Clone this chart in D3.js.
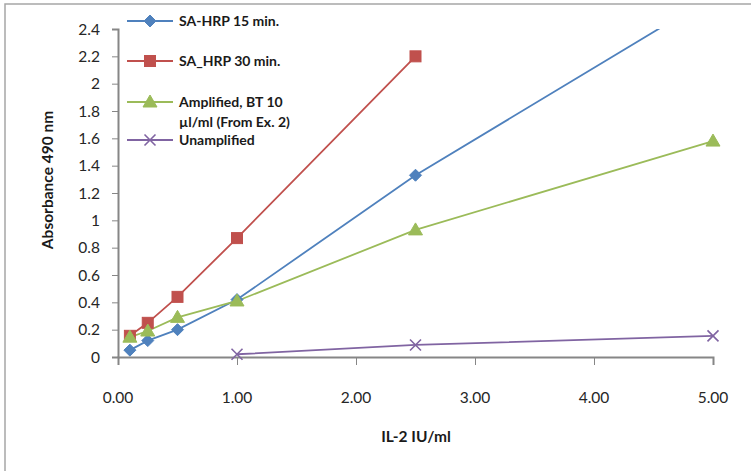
<!DOCTYPE html>
<html><head><meta charset="utf-8">
<script src="https://cdn.jsdelivr.net/npm/d3@7"></script>
<style>body{margin:0;background:#fff;}svg{display:block;font-family:Lato,"Open Sans",sans-serif;}</style>
</head><body><svg id="c" width="751" height="471"></svg>
<script>
const seriesNames = ["SA-HRP 15 min.", "SA_HRP 30 min.", "Amplified, BT 10|µl/ml (From Ex. 2)", "Unamplified"];
const xBlue = [0.1, 0.25, 0.5, 1.0, 2.5, 5.0];
const yBlue = [0.05, 0.12, 0.20, 0.42, 1.33, 2.64];
const xRed = [0.1, 0.25, 0.5, 1.0, 2.5];
const yRed = [0.155, 0.25, 0.44, 0.87, 2.2];
const xGreen = [0.1, 0.25, 0.5, 1.0, 2.5, 5.0];
const yGreen = [0.145, 0.19, 0.29, 0.41, 0.93, 1.58];
const xPurple = [1.0, 2.5, 5.0];
const yPurple = [0.02, 0.088, 0.155];
const xTicks = [0, 1, 2, 3, 4, 5];
const yTicks = [0, 0.2, 0.4, 0.6, 0.8, 1, 1.2, 1.4, 1.6, 1.8, 2, 2.2, 2.4];
const colors = ["#4F81BD", "#C0504D", "#9BBB59", "#8064A2"];
const markers = ["diamond", "square", "triangle", "x"];

const svg = d3.select("#c");
// outer frame
svg.append("rect").attr("x",5).attr("y",4).attr("width",760).attr("height",480)
  .attr("fill","none").attr("stroke","#a6a6a6").attr("stroke-width",1.5);

const L=118,R=713,T=29,B=357;
const x = d3.scaleLinear().domain([0,5]).range([L,R]);
const y = d3.scaleLinear().domain([0,2.4]).range([B,T]);

svg.append("defs").append("clipPath").attr("id","pc").append("rect")
  .attr("x",L-8).attr("y",T).attr("width",R-L+16).attr("height",B-T+8);

// minor ticks
const gx = svg.append("g").attr("transform",`translate(0,${B})`);
gx.call(d3.axisBottom(x).tickValues(d3.range(0,5.001,0.2)).tickSize(5).tickFormat(""));
gx.call(d3.axisBottom(x).tickValues(xTicks).tickSize(8).tickFormat(""));
gx.selectAll("line").attr("stroke","#868686");
gx.select(".domain").attr("stroke","#868686").attr("stroke-width",2);
const gy = svg.append("g").attr("transform",`translate(${L},0)`);
gy.call(d3.axisLeft(y).tickValues(d3.range(0,2.4001,0.04)).tickSize(4).tickFormat(""));
gy.call(d3.axisLeft(y).tickValues(yTicks).tickSize(6).tickFormat(""));
gy.selectAll("line").attr("stroke","#868686");
gy.selectAll(".domain").attr("stroke","#868686").attr("stroke-width",2);

// tick labels
svg.append("g").selectAll("text").data(xTicks).join("text")
  .attr("x",d=>x(d)).attr("y",403).attr("text-anchor","middle")
  .attr("font-size",15.5).attr("fill","#262626").text(d=>d3.format(".2f")(d));
svg.append("g").selectAll("text").data(yTicks).join("text")
  .attr("x",100).attr("y",d=>y(d)+5.5).attr("text-anchor","end")
  .attr("font-size",15.5).attr("fill","#262626").text(d=>d3.format("")(+d.toFixed(1)));

// axis titles
svg.append("text").attr("x",416).attr("y",442).attr("text-anchor","middle")
  .attr("font-size",15.5).attr("font-weight","bold").attr("fill","#1a1a1a").text("IL-2 IU/ml");
svg.append("text").attr("transform","translate(53,180) rotate(-90)").attr("text-anchor","middle")
  .attr("font-size",15.5).attr("font-weight","bold").attr("fill","#1a1a1a").text("Absorbance 490 nm");

function drawMarker(g, type, cx, cy, color){
  if(type==="diamond"){
    g.append("path").attr("d",`M${cx},${cy-6}L${cx+6},${cy}L${cx},${cy+6}L${cx-6},${cy}Z`).attr("fill",color).attr("stroke",color);
  } else if(type==="square"){
    g.append("rect").attr("x",cx-5.5).attr("y",cy-5.5).attr("width",11).attr("height",11).attr("fill",color).attr("stroke",color);
  } else if(type==="triangle"){
    g.append("path").attr("d",`M${cx},${cy-7}L${cx+7},${cy+5}L${cx-7},${cy+5}Z`).attr("fill",color).attr("stroke",color);
  } else {
    g.append("path").attr("d",`M${cx-5.5},${cy-5.5}L${cx+5.5},${cy+5.5}M${cx-5.5},${cy+5.5}L${cx+5.5},${cy-5.5}`).attr("stroke",color).attr("stroke-width",1.6).attr("fill","none");
  }
}

const data = [[xBlue,yBlue],[xRed,yRed],[xGreen,yGreen],[xPurple,yPurple]];
const plot = svg.append("g").attr("clip-path","url(#pc)");
const line = d3.line().x(d=>x(d[0])).y(d=>y(d[1]));
data.forEach(([xs,ys],i)=>{
  const pts = xs.map((v,k)=>[v,ys[k]]);
  plot.append("path").datum(pts).attr("d",line).attr("fill","none").attr("stroke",colors[i]).attr("stroke-width",1.8);
});
data.forEach(([xs,ys],i)=>{
  const g = plot.append("g");
  xs.forEach((v,k)=>{ if(ys[k]<=2.4) drawMarker(g, markers[i], x(v), y(ys[k]), colors[i]); });
});

// legend
const legY = [21, 61, 102, 140];
const lg = svg.append("g");
seriesNames.forEach((name,i)=>{
  lg.append("line").attr("x1",127).attr("x2",173).attr("y1",legY[i]).attr("y2",legY[i]).attr("stroke",colors[i]).attr("stroke-width",1.8);
  drawMarker(lg, markers[i], 150, legY[i], colors[i]);
  name.split("|").forEach((t,j)=>{
    lg.append("text").attr("x",179).attr("y",legY[i]+5+j*19.5).attr("font-size",14)
      .attr("font-weight","bold").attr("fill","#1a1a1a").text(t);
  });
});
</script></body></html>
